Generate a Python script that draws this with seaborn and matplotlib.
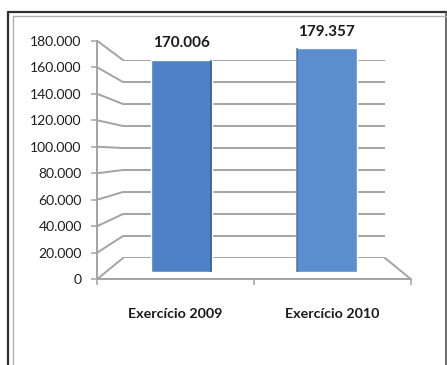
import matplotlib
matplotlib.use("Agg")
import matplotlib.pyplot as plt
import seaborn as sns
import pandas as pd
from matplotlib.lines import Line2D
from matplotlib.patches import ConnectionPatch, Rectangle
from matplotlib.ticker import FuncFormatter

# ---- data ----
categories = ["Exercício 2009", "Exercício 2010"]
values = [170006, 179357]
value_labels = ["170.006", "179.357"]
y_ticks = [0, 20000, 40000, 60000, 80000, 100000, 120000, 140000, 160000, 180000]
bar_colors = ["#4e81c6", "#5a8ecf"]

sns.set_theme(style="white")
plt.rcParams["font.family"] = ["Lato", "DejaVu Sans"]

W, H = 447, 365
fig = plt.figure(figsize=(W / 100, H / 100), dpi=100)
fig.patch.set_facecolor("white")


def px_axes(x0, x1, y_top, y_bottom, zorder):
    """Add an axes given its pixel box (origin at the top-left)."""
    ax = fig.add_axes([x0 / W, (H - y_bottom) / H, (x1 - x0) / W, (y_bottom - y_top) / H])
    ax.set_zorder(zorder)
    ax.patch.set_alpha(0)
    return ax


grid_color = "#a3a3a3"
grid_lw = 1.4
ymax = y_ticks[-1]

# back wall with the horizontal gridlines
ax_back = px_axes(123, 385, 60, 258, 0)
ax_back.set_xlim(0, 1)
ax_back.set_ylim(0, ymax)
ax_back.set_yticks(y_ticks)
ax_back.yaxis.grid(True, color=grid_color, linewidth=grid_lw)
ax_back.tick_params(left=False, bottom=False, labelleft=False, labelbottom=False)
ax_back.set_xticks([])
for s in ax_back.spines.values():
    s.set_visible(False)

# front plane: value axis, floor edge and category labels
ax_front = px_axes(97, 411, 40.7, 279.3, 1)
ax_front.set_xlim(-0.5, 1.5)
ax_front.set_ylim(0, ymax)
ax_front.set_yticks(y_ticks)
ax_front.yaxis.set_major_formatter(FuncFormatter(lambda v, p: f"{v:,.0f}".replace(",", ".")))
ax_front.set_xticks([0, 1], labels=categories)
ax_front.set_xticks([-0.5, 0.5, 1.5], minor=True)
ax_front.tick_params(axis="y", which="major", direction="out", length=4, width=1.1,
                     color=grid_color, pad=7, labelsize=10, labelcolor="#1e1e1e", left=True)
ax_front.tick_params(axis="x", which="major", length=0, pad=21, labelsize=10.3,
                     labelcolor="#1a1a1a")
ax_front.tick_params(axis="x", which="minor", direction="out", length=4, width=1.1,
                     color=grid_color, bottom=True)
for lbl in ax_front.get_xticklabels():
    lbl.set_fontweight("bold")
for name, s in ax_front.spines.items():
    if name in ("left", "bottom"):
        s.set_color(grid_color)
        s.set_linewidth(grid_lw)
    else:
        s.set_visible(False)

# perspective connectors from the front axis to the back wall
for v in y_ticks:
    fig.add_artist(ConnectionPatch(xyA=(-0.5, v), coordsA=ax_front.transData,
                                   xyB=(0, v), coordsB=ax_back.transData,
                                   color=grid_color, linewidth=grid_lw, zorder=0.5))
fig.add_artist(ConnectionPatch(xyA=(1, 0), coordsA=ax_back.transData,
                               xyB=(1.5, 0), coordsB=ax_front.transData,
                               color=grid_color, linewidth=grid_lw, zorder=0.5))

# columns
ax_bar = px_axes(109.4, 398.6, 47.5, 271.7, 2)
df = pd.DataFrame({"cat": categories, "val": values})
sns.barplot(data=df, x="cat", y="val", hue="cat", palette=bar_colors, width=0.42,
            saturation=1, legend=False, ax=ax_bar)
ax_bar.set_xlim(-0.5, 1.5)
ax_bar.set_ylim(0, ymax)
ax_bar.axis("off")

# darker side face on the inner edge of each column
for i, patch in enumerate(ax_bar.patches):
    x0, w, h = patch.get_x(), patch.get_width(), patch.get_height()
    side_w = w * 0.04
    sx = x0 + w - side_w if i == 0 else x0
    ax_bar.add_patch(Rectangle((sx, 0), side_w, h, facecolor="#2c5288",
                               edgecolor="none", alpha=0.6, zorder=3))

# value labels above the columns
for i, (v, lbl) in enumerate(zip(values, value_labels)):
    ax_bar.annotate(lbl, xy=(i, v), xytext=(0, 12), textcoords="offset points",
                    ha="center", va="center", fontsize=11, fontweight="bold",
                    color="#1a1a1a", annotation_clip=False)

# double frame around the chart
def fline(x0, y0, x1, y1, color, lw):
    fig.add_artist(Line2D([x0 / W, x1 / W], [1 - y0 / H, 1 - y1 / H], color=color,
                          linewidth=lw, transform=fig.transFigure, zorder=5))

fline(8, 11.7, 447, 11.7, "#303030", 1.6)
fline(8, 11.7, 8, 365, "#303030", 1.6)
fline(445.5, 11.7, 445.5, 365, "#505050", 1.2)
fline(12.5, 15.5, 447, 15.5, "#b0b0b0", 1.0)
fline(12.5, 15.5, 12.5, 365, "#b0b0b0", 1.0)

fig.savefig("out.png", dpi=100, facecolor="white")
